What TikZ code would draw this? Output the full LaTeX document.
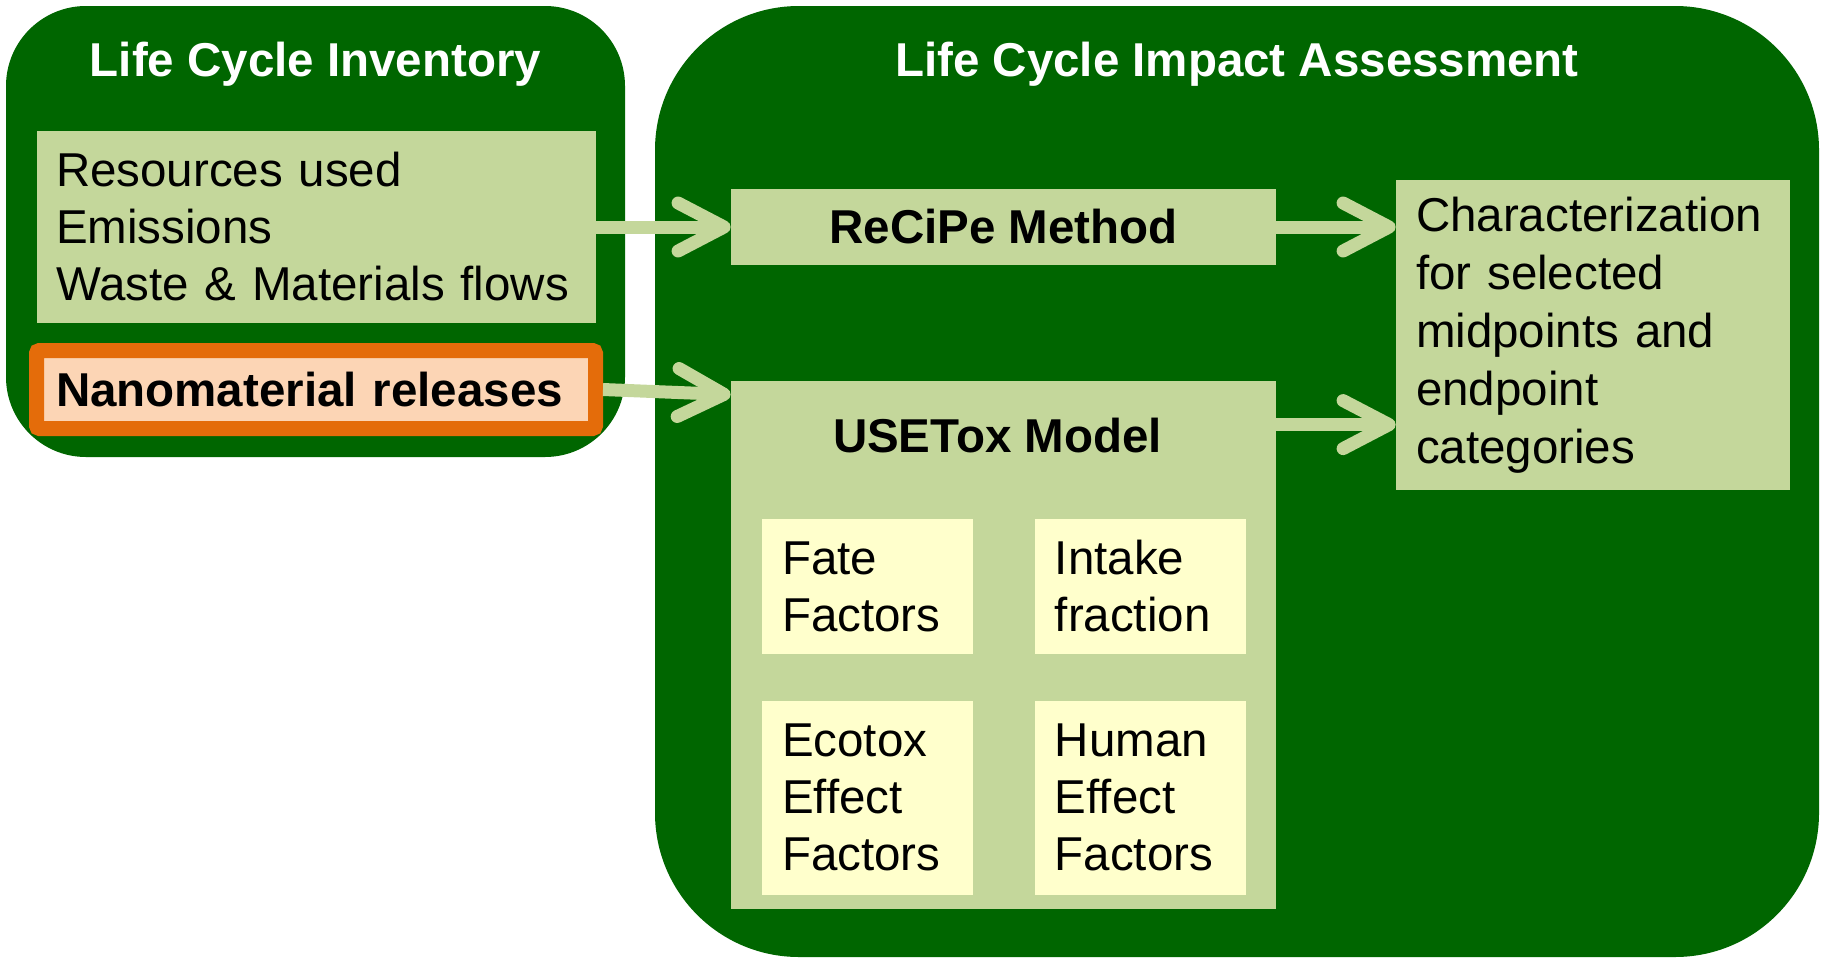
\documentclass[tikz,border=0pt]{standalone}
\usepackage{fontspec}
\setmainfont{Liberation Sans}
\usetikzlibrary{positioning, arrows.meta}
\definecolor{lcagreen}{HTML}{006600}
\definecolor{boxgreen}{HTML}{C4D79B}
\definecolor{factyellow}{HTML}{FFFFCC}
\definecolor{nanoorange}{HTML}{E46C0A}
\definecolor{nanopeach}{HTML}{FCD5B5}

\begin{document}
\begin{tikzpicture}[x=0.5pt, y=-0.5pt,
  stage/.style={fill=lcagreen, inner sep=0pt},
  heading/.style={text=white, font=\fontsize{23.75}{28.5}\selectfont\bfseries},
  comp/.style={fill=boxgreen, align=center, inner sep=0pt,
               font=\fontsize{23.75}{28.5}\selectfont\bfseries},
  lcomp/.style={fill=boxgreen, align=left, inner xsep=9.5pt,
                font=\fontsize{23.75}{28.5}\selectfont},
  fact/.style={fill=factyellow, align=left, inner xsep=10pt, text width=85.5pt,
               minimum width=105.5pt, font=\fontsize{23.75}{28.5}\selectfont},
  arr/.style={boxgreen, line width=6.5pt,
              -{Straight Barb[length=23pt, width=24pt, round]}},
]
\useasboundingbox (0,0) rectangle (1825,959);

%% ---- Stage containers ----

\node[stage, rounded corners=40pt, minimum width=309.5pt, minimum height=225.5pt]
    (lci) at (315.5,231.5) {};
\node[heading] (lcihead) at ([yshift=-29.5pt]lci.north) {Life Cycle Inventory};

\node[stage, rounded corners=72pt, minimum width=582pt, minimum height=475.5pt]
    (lcia) at (1237,481.5) {};
\node[heading] (lciahead) at ([yshift=-29.5pt]lcia.north) {Life Cycle Impact Assessment};

%% ---- Inventory ----

\node[lcomp, text width=260.5pt, minimum width=279.5pt, minimum height=96pt]
    (inv) at (316.5,227)
    {Resources used\\Emissions\\Waste \& Materials flows};

\node[draw=nanoorange, line width=7.5pt, fill=nanopeach, rounded corners=1.5pt,
      align=left, inner xsep=9.75pt, text width=260pt, minimum height=39pt,
      font=\fontsize{23.75}{28.5}\selectfont\bfseries]
    (nano) at (316,389.5) {Nanomaterial releases};

%% ---- Impact assessment ----

\node[comp, minimum width=272.5pt, minimum height=38pt] (recipe) at (1003.5,227)
    {ReCiPe Method};

\node[comp, minimum width=272.5pt, minimum height=264pt] (usetox) at (1003.5,645) {};
\node[comp, fill=none] (usetoxhead) at ([xshift=-3pt, yshift=-27.5pt]usetox.north) {USETox Model};

\node[lcomp, inner xsep=10pt, text width=177pt, minimum width=197pt, minimum height=155pt,
      font=\fontsize{23.75}{29}\selectfont]
    (charact) at (1593,335)
    {Characterization\\for selected\\midpoints and\\endpoint\\categories};

%% USEtox factors
\node[fact, minimum height=67.5pt] (fate) at (867.5,586.5) {Fate\\Factors};
\node[fact, minimum height=67.5pt, right=30.5pt of fate] (intake) {Intake\\fraction};
\node[fact, minimum height=97pt, below=23pt of fate.south, anchor=north] (ecotox)
    {Ecotox\\Effect\\Factors};
\node[fact, minimum height=97pt] (human) at (intake |- ecotox) {Human\\Effect\\Factors};

%% ---- Flows ----

\draw[arr] (inv.east) -- (recipe.west);
\draw[arr] (nano.east) -- ([yshift=-7pt]usetox.north west);
\draw[arr] (recipe.east) -- (recipe.east -| charact.west);
\draw[arr] ([yshift=-22pt]usetox.north east) -- ([yshift=-22pt]usetox.north east -| charact.west);

\end{tikzpicture}
\end{document}
